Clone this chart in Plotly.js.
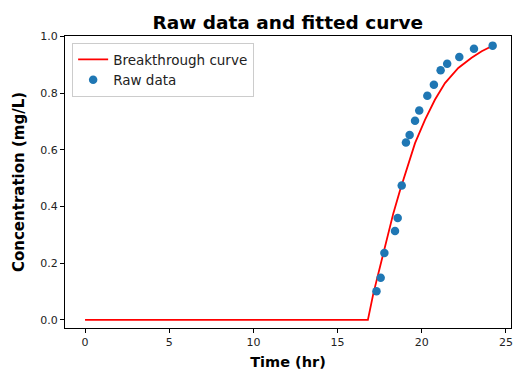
<!DOCTYPE html>
<html>
<head>
<meta charset="utf-8">
<script src="https://cdn.plot.ly/plotly-3.0.1.min.js"></script>
<style>html,body{margin:0;padding:0;background:#fff;}#chart{width:513px;height:373px;}</style>
</head>
<body>
<div id="chart"></div>
<script>
// Fitted breakthrough curve
const curveTime = [0, 16.8, 17.12, 17.52, 17.91, 18.31, 18.71, 19.10, 19.60, 20.19, 20.78, 21.38, 21.80, 22.17, 22.96, 23.56, 24.15];
const curveConc = [0, 0, 0.092, 0.187, 0.281, 0.376, 0.458, 0.529, 0.624, 0.706, 0.777, 0.836, 0.866, 0.889, 0.925, 0.948, 0.966];

// Raw data points
const rawTime = [17.31, 17.56, 17.78, 18.41, 18.57, 18.81, 19.06, 19.28, 19.60, 19.85, 20.33, 20.72, 21.12, 21.51, 22.23, 23.10, 24.21];
const rawConc = [0.101, 0.149, 0.236, 0.314, 0.360, 0.474, 0.626, 0.653, 0.703, 0.739, 0.791, 0.830, 0.881, 0.904, 0.928, 0.957, 0.968];

const xTicks = [0, 5, 10, 15, 20, 25];
const yTicks = [0.0, 0.2, 0.4, 0.6, 0.8, 1.0];

const font = 'DejaVu Sans, sans-serif';

const traces = [
  {x: curveTime, y: curveConc, type: 'scatter', mode: 'lines', name: 'Breakthrough curve',
   line: {color: '#ff0000', width: 1.8}},
  {x: rawTime, y: rawConc, type: 'scatter', mode: 'markers', name: 'Raw data',
   marker: {color: '#1f77b4', size: 8.5}}
];

const axisCommon = {
  showline: true, linecolor: '#000', linewidth: 1, mirror: true,
  ticks: 'outside', ticklen: 4, tickcolor: '#000', tickwidth: 1,
  showgrid: false, zeroline: false,
  tickfont: {family: font, size: 11, color: '#222'}
};

const layout = {
  width: 513, height: 373,
  margin: {l: 65, r: 2, t: 36, b: 45},
  paper_bgcolor: '#fff', plot_bgcolor: '#fff',
  showlegend: true,
  title: {text: 'Raw data and fitted curve', font: {family: font, size: 18.5, color: '#000', weight: 'bold'},
          x: 0.561, xanchor: 'center', y: 0.94, yanchor: 'middle'},
  xaxis: Object.assign({}, axisCommon, {
    range: [-1.19, 25.3], tickvals: xTicks, ticktext: xTicks.map(String),
    title: {text: 'Time (hr)', font: {family: font, size: 14.5, color: '#000', weight: 'bold'}, standoff: 8}
  }),
  yaxis: Object.assign({}, axisCommon, {
    range: [-0.0285, 1.002], tickvals: yTicks, ticktext: yTicks.map(v => v.toFixed(1)),
    title: {text: 'Concentration (mg/L)', font: {family: font, size: 15, color: '#000', weight: 'bold'}, standoff: 12}
  }),
  legend: {x: 0.016, y: 0.976, xanchor: 'left', yanchor: 'top',
           bgcolor: 'rgba(255,255,255,0.8)', bordercolor: '#cccccc', borderwidth: 1,
           font: {family: font, size: 13.5, color: '#222'}}
};

Plotly.newPlot('chart', traces, layout, {displayModeBar: false, staticPlot: true});
</script>
</body>
</html>
